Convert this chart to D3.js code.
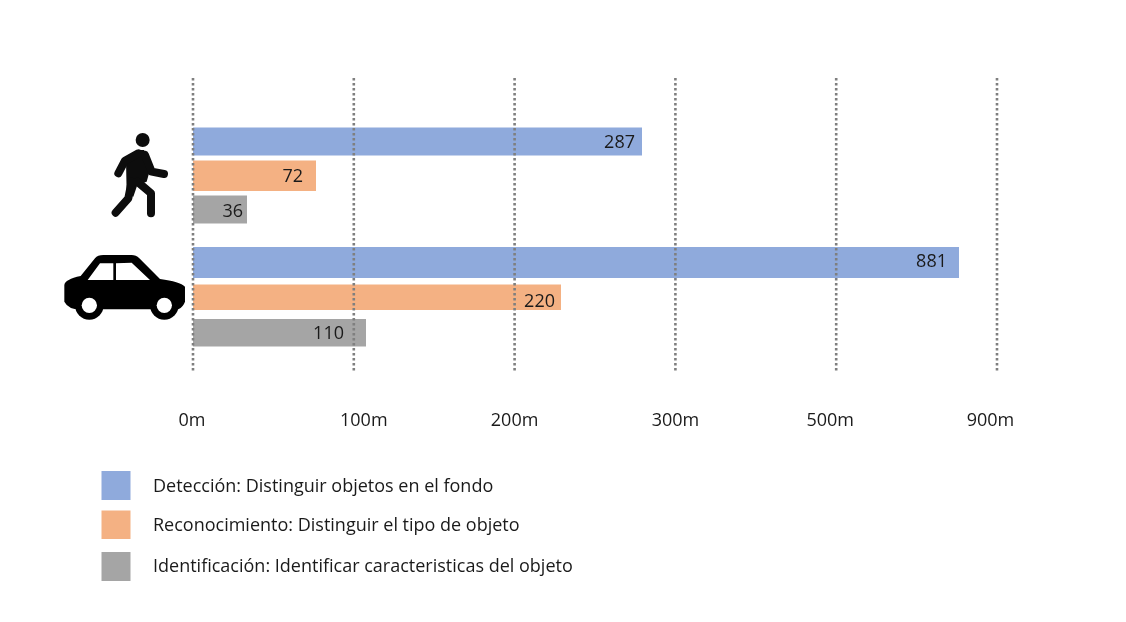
<!DOCTYPE html>
<html><head><meta charset="utf-8">
<script src="https://cdn.jsdelivr.net/npm/d3@7"></script>
<style>html,body{margin:0;background:#fff}svg{display:block;filter:blur(0.35px)}text{font-family:"Open Sans",sans-serif;fill:#1a1a1a}</style>
</head><body><div id="c"></div>
<script>
const tickLabels = ["0m","100m","200m","300m","500m","900m"];
const groups = ["Peatón","Coche"];
const seriesNames = ["Detección","Reconocimiento","Identificación"];
const legendLabels = ["Detección: Distinguir objetos en el fondo","Reconocimiento: Distinguir el tipo de objeto","Identificación: Identificar caracteristicas del objeto"];
const peaton = [287,72,36];
const coche = [881,220,110];
const colors = ["#8faadc","#f4b183","#a5a5a5"];

const W=1126,H=622;
const svg=d3.select("#c").append("svg").attr("width",W).attr("height",H);

// The original's axis is non-uniform and its bars are hand-placed: a piecewise scale through each value
const x=d3.scaleLinear().domain([0,36,72,110,220,287,881]).range([193,247,316,366,561,642,959]);
const xTick=d3.scalePoint().domain(tickLabels).range([193,997]);
const rows={ "Peatón":[[127.5,155.5],[160.5,191],[195.5,223.5]], "Coche":[[247,278],[284.5,310],[319,346.5]] };
const labelPad={ "Peatón":[7,13,4], "Coche":[12,6,22] };
const labelY={ "Peatón":[142,176,211], "Coche":[260.5,300.5,333] };
const values={ "Peatón":peaton, "Coche":coche };

const marks=groups.flatMap(g=>values[g].map((v,i)=>({g,i,v})));
svg.selectAll("rect.bar").data(marks).join("rect").attr("class","bar")
  .attr("x",x(0)).attr("width",d=>x(d.v)-x(0))
  .attr("y",d=>rows[d.g][d.i][0]).attr("height",d=>rows[d.g][d.i][1]-rows[d.g][d.i][0])
  .attr("fill",d=>colors[d.i]);

svg.selectAll("line.grid").data(tickLabels).join("line").attr("class","grid")
  .attr("x1",d=>xTick(d)).attr("x2",d=>xTick(d)).attr("y1",78).attr("y2",371)
  .attr("stroke","#7f7f7f").attr("stroke-width",2.6).attr("stroke-dasharray","2.5 2.5");

svg.selectAll("text.val").data(marks).join("text").attr("class","val")
  .attr("x",d=>x(d.v)-labelPad[d.g][d.i]).attr("y",d=>labelY[d.g][d.i])
  .attr("dy","0.35em").attr("text-anchor","end").attr("font-size",18).text(d=>d.v);

const axisOffset={"0m":-1,"100m":10,"200m":0,"300m":0,"500m":-6,"900m":-6.5};
svg.selectAll("text.tick").data(tickLabels).join("text").attr("class","tick")
  .attr("x",d=>xTick(d)+axisOffset[d]).attr("y",420).attr("dy","0.35em")
  .attr("text-anchor","middle").attr("font-size",18).text(d=>d);

const swatchY=[[471,500],[510.5,539],[552,581]], textY=[485.5,525,566];
svg.selectAll("rect.sw").data(seriesNames).join("rect").attr("class","sw")
  .attr("x",101.5).attr("width",29).attr("y",(d,i)=>swatchY[i][0]).attr("height",(d,i)=>swatchY[i][1]-swatchY[i][0])
  .attr("fill",(d,i)=>colors[i]);
svg.selectAll("text.leg").data(legendLabels).join("text").attr("class","leg")
  .attr("x",153).attr("y",(d,i)=>textY[i]).attr("dy","0.35em").attr("font-size",18).text(d=>d);

// icons, in a 3x coordinate frame
const icon=svg.append("g").attr("transform","translate(50,70) scale(0.3333)");
const ped=icon.append("g");
ped.append("circle").attr("cx",278).attr("cy",210).attr("r",21).attr("fill","#0d0d0d");
ped.append("path").attr("d","M228,270 L262,240 L282,240 L298,262 L300,300 L290,335 L262,345 L250,380 L230,370 Z").attr("fill","#0d0d0d");
ped.append("path").attr("d","M205,310 L225,272 L265,250 M285,255 L305,305 L342,312 M245,335 L235,385 L197,428 M262,335 L303,370 L303,430")
  .attr("fill","none").attr("stroke","#0d0d0d").attr("stroke-width",24).attr("stroke-linecap","round").attr("stroke-linejoin","round");
const car=icon.append("g");
car.append("path").attr("d","M43,645 Q45,628 92,618 L135,565 Q143,555 160,555 L245,555 Q258,555 268,565 L330,627 Q390,635 405,650 L405,695 Q400,710 385,718 L90,718 Q55,718 43,695 Z").attr("fill","#000");
[118,343].forEach(cx=>{
  car.append("circle").attr("cx",cx).attr("cy",706).attr("r",43).attr("fill","#000");
  car.append("circle").attr("cx",cx).attr("cy",706).attr("r",23).attr("fill","#fff");
});
car.append("path").attr("d","M113,630 L150,580 L190,580 L190,630 Z M198,580 L245,578 L300,630 L198,630 Z").attr("fill","#fff");
</script></body></html>
